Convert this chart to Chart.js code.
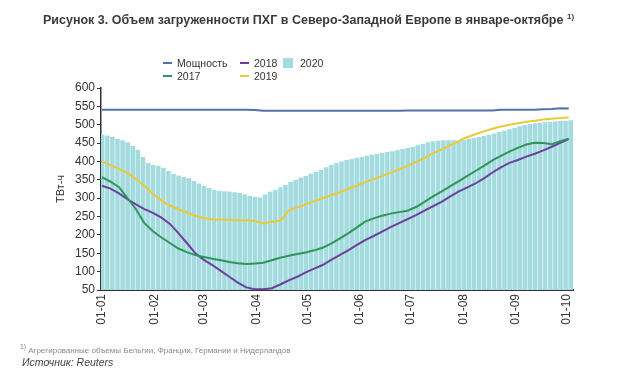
<!DOCTYPE html>
<html>
<head>
<meta charset="utf-8">
<script src="https://cdn.jsdelivr.net/npm/chart.js@4"></script>
<style>
  body { margin: 0; background: #fff; font-family: "Liberation Sans", Arial, sans-serif; }
  #wrap { position: relative; width: 636px; height: 378px; overflow: hidden; }
  #chart { position: absolute; left: 0; top: 0; }
  .title { position: absolute; left: 43px; top: 12px; font-weight: bold; font-size: 12.5px; color: #3a3a3a; white-space: nowrap; }
  .title sup { font-size: 8px; }
  #legend { position: absolute; left: 163px; top: 56px; display: grid; grid-template-rows: 13px 13px; grid-template-columns: 77px 43px auto; grid-auto-flow: column; font-size: 10.5px; color: #333; }
  .item { display: flex; align-items: center; white-space: nowrap; }
  .mark { width: 9px; height: 2px; margin-right: 5px; }
  .box { width: 10px; height: 10px; margin-right: 7px; }
  .note { position: absolute; left: 20px; top: 343px; font-size: 8px; color: #888; white-space: nowrap; }
  .src { position: absolute; left: 22px; top: 356px; font-size: 10.5px; font-style: italic; color: #444; }
</style>
</head>
<body>
<div id="wrap">
  <canvas id="chart" width="636" height="378"></canvas>
  <div class="title">Рисунок 3. Объем загруженности ПХГ в Северо-Западной Европе в январе-октябре <sup>1)</sup></div>
  <div id="legend"></div>
  <div class="note"><sup>1)</sup> Агрегированные объемы Бельгии, Франции, Германии и Нидерландов</div>
  <div class="src">Источник: Reuters</div>
</div>
<script>
// month ticks (day of year, 2020)
const monthDays = [0, 31, 60, 91, 121, 152, 182, 213, 244, 274];
const monthLabels = ["01-01", "01-02", "01-03", "01-04", "01-05", "01-06", "01-07", "01-08", "01-09", "01-10"];

// lines, every 5 days
const lineDays = [0,5,10,15,20,25,30,35,40,45,50,55,60,65,70,75,80,85,90,95,100,105,110,115,120,125,130,135,140,145,150,155,160,165,170,175,180,185,190,195,200,205,210,215,220,225,230,235,240,245,250,255,260,265,270,275];
const capacity = [541,541,541,541,541,541,541,541,541,541,541,541,541,541,541,541,541,541,540,538,538,538,538,538,538,538,538,538,538,538,538,538,538,538,538,538,539,539,539,539,539,539,539,539,539,539,539,541,541,541,541,541,542,543,545,544];
const y2017 = [357,345,330,300,270,232,210,193,178,163,153,145,140,135,131,126,123,121,122,124,131,138,143,148,152,158,165,176,190,204,220,236,245,252,258,262,266,276,290,305,318,332,346,360,374,388,403,415,427,437,446,451,450,447,455,462];
const y2018 = [334,326,313,297,283,270,260,247,230,205,178,150,132,118,102,86,70,57,52,52,55,65,76,86,98,108,118,132,145,158,172,186,197,209,221,232,243,254,266,278,290,304,318,329,340,354,370,384,396,404,413,421,430,440,451,461];
const y2019 = [400,390,380,368,352,333,312,294,280,270,261,252,246,242,241,241,240,240,238,231,236,238,266,275,283,292,300,308,316,325,334,343,352,360,369,378,388,398,410,422,433,444,455,466,474,482,489,495,500,504,508,511,514,516,518,520];

// 2020 bars, every 3 days
const barDays = [0,3,6,9,12,15,18,21,24,27,30,33,36,39,42,45,48,51,54,57,60,63,66,69,72,75,78,81,84,87,90,93,96,99,102,105,108,111,114,117,120,123,126,129,132,135,138,141,144,147,150,153,156,159,162,165,168,171,174,177,180,183,186,189,192,195,198,201,204,207,210,213,216,219,222,225,228,231,234,237,240,243,246,249,252,255,258,261,264,267,270,273,276];
const y2020 = [473,471,467,462,458,452,442,432,412,396,
  391,388,383,374,366,362,358,354,347,340,
  334,328,323,320,319,318,316,314,311,306,
  304,302,310,318,323,330,336,344,350,356,
  361,367,372,377,384,391,396,400,404,407,
  410,413,416,419,421,423,426,428,431,434,
  437,440,444,448,452,455,457,458,458,458,
  457,458,461,464,467,470,473,476,480,484,
  488,492,496,499,502,504,506,507,508,509,
  510,511,512];

function pts(days, vals) {
  return days.map((d, i) => ({ x: d, y: vals[i] }));
}

function lineSet(label, vals, color, order) {
  return {
    type: "line",
    label: label,
    data: pts(lineDays, vals),
    borderColor: color,
    backgroundColor: color,
    borderWidth: 2,
    pointRadius: 0,
    tension: 0,
    order: order,
  };
}

const chart = new Chart(document.getElementById("chart"), {
  type: "bar",
  data: {
    datasets: [
      lineSet("Мощность", capacity, "#5470ab", 1),
      lineSet("2017", y2017, "#2f9558", 2),
      lineSet("2018", y2018, "#6d3f9e", 3),
      lineSet("2019", y2019, "#ebc93a", 4),
      {
        type: "bar",
        label: "2020",
        data: pts(barDays, y2020),
        backgroundColor: "#a4dbdf",
        borderColor: "#d6f0f2",
        borderWidth: { left: 1, right: 0, top: 0, bottom: 0 },
        categoryPercentage: 1,
        barPercentage: 1,
        order: 10,
      },
    ],
  },
  options: {
    responsive: false,
    animation: false,
    layout: { padding: { left: 50, top: 88, right: 63, bottom: 0 } },
    plugins: { legend: { display: false }, tooltip: { enabled: false } },
    scales: {
      x: {
        type: "linear",
        min: -0.6,
        max: 277.5,
        offset: false,
        afterBuildTicks: (s) => { s.ticks = monthDays.map((v) => ({ value: v })); },
        afterFit: (s) => { s.height = 88; },
        ticks: {
          autoSkip: false,
          maxRotation: 90,
          minRotation: 90,
          padding: 4,
          color: "#333",
          font: { size: 12 },
          callback: (v, i) => monthLabels[i],
        },
        grid: { display: true, drawOnChartArea: false, drawTicks: false },
        border: { color: "#333", width: 2 },
      },
      y: {
        min: 50,
        max: 600,
        afterFit: (s) => { s.width = 51; },
        ticks: { stepSize: 50, padding: 2, color: "#333", font: { size: 12 } },
        grid: { drawOnChartArea: false, tickLength: 4, color: "#333" },
        border: { color: "#333", width: 1.5 },
        title: { display: true, text: "ТВт-ч", color: "#333", font: { size: 11 }, padding: { top: 4, bottom: 0 } },
      },
    },
  },
});

// legend in two rows, filled column by column
const legendEl = document.getElementById("legend");
chart.data.datasets.forEach((ds) => {
  const item = document.createElement("div");
  item.className = "item";
  const m = document.createElement("span");
  m.className = ds.type === "bar" ? "box" : "mark";
  m.style.background = ds.type === "bar" ? ds.backgroundColor : ds.borderColor;
  item.appendChild(m);
  item.appendChild(document.createTextNode(ds.label));
  legendEl.appendChild(item);
});
</script>
</body>
</html>
